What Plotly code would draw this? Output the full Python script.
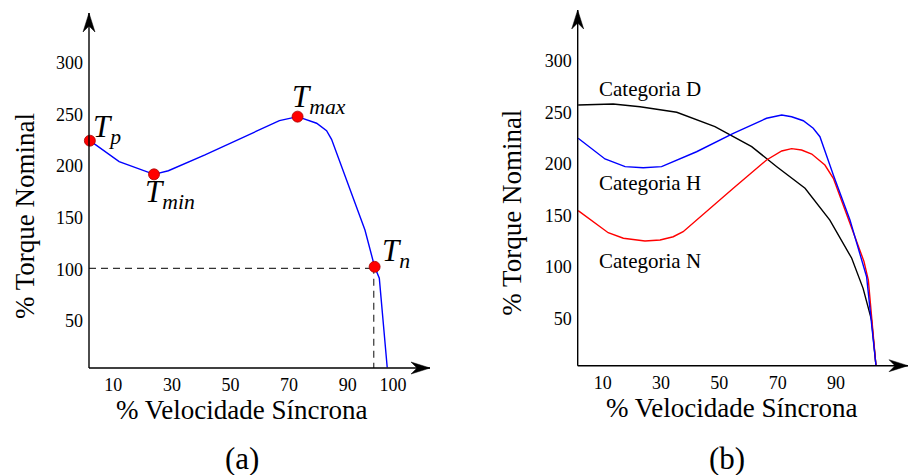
import plotly.graph_objects as go

# ---------------- Data: panel (a) ----------------
speed_a = [2.0, 12.0, 23.9, 28.8, 41.3, 66.7, 72.9, 79.4, 82.8, 84.5, 95.9, 99.2, 100.8, 103.5]
torque_a = [224.7, 204.4, 192.1, 195.6, 210.9, 244.1, 248.0, 241.6, 234.4, 226.0, 138.2, 102.5, 91.4, 5.0]

point_labels = ["<i>T</i><sub><i>p</i></sub>", "<i>T</i><sub><i>min</i></sub>",
                "<i>T</i><sub><i>max</i></sub>", "<i>T</i><sub><i>n</i></sub>"]
point_speed = [2.0, 23.9, 72.9, 99.2]
point_torque = [224.7, 192.1, 248.0, 102.5]

# ---------------- Data: panel (b) ----------------
speed_d = [1.6, 13.6, 22.8, 35.4, 48.5, 61.1, 69.7, 79.4, 87.9, 95.4, 99.3, 102.2, 103.7]
torque_d = [257.1, 258.0, 255.4, 250.0, 236.0, 216.6, 197.2, 176.2, 145.4, 108.3, 79.1, 48.3, 4.7]

speed_h = [1.6, 10.8, 17.7, 23.9, 30.2, 42.2, 54.8, 66.2, 71.4, 74.8, 78.8, 82.2, 84.5, 89.1, 94.8, 100.5, 103.7]
torque_h = [224.8, 204.7, 197.2, 196.2, 197.2, 211.7, 229.6, 244.2, 247.4, 245.7, 241.8, 234.5, 226.3, 189.1, 145.4, 90.4, 4.7]

speed_n = [1.6, 11.9, 17.1, 24.5, 29.7, 34.2, 37.6, 43.4, 54.8, 66.2, 71.4, 74.8, 78.2, 81.7, 86.2, 89.1, 94.8, 99.6, 101.1, 103.7]
torque_n = [154.5, 133.1, 127.7, 125.0, 126.0, 129.2, 134.1, 148.6, 176.2, 203.7, 212.4, 214.7, 213.4, 209.5, 198.8, 185.9, 142.2, 105.3, 87.2, 4.7]

category_names = ["Categoria D", "Categoria H", "Categoria N"]

# ---------------- Ticks ----------------
x_tick_vals_a = [10, 30, 50, 70, 90, 105.5]
x_tick_text_a = ["10", "30", "50", "70", "90", "100"]
x_tick_vals_b = [10, 30, 50, 70, 90]
x_tick_text_b = ["10", "30", "50", "70", "90"]
y_tick_vals = [50, 100, 150, 200, 250, 300]
y_tick_text = ["50", "100", "150", "200", "250", "300"]

x_title = "% Velocidade Síncrona"
y_title = "% Torque Nominal"
panel_names = ["(a)", "(b)"]

FONT = "Liberation Serif, Times New Roman, serif"
W, H = 909, 475

fig = go.Figure()

# Panel (a) curve
fig.add_trace(go.Scatter(x=speed_a, y=torque_a, mode="lines",
                         line=dict(color="#0000ff", width=1.4),
                         xaxis="x", yaxis="y", showlegend=False, cliponaxis=False))
# Dashed guides to Tn
x_min_a = 1.71
y_min_a = 4.46
fig.add_trace(go.Scatter(x=[x_min_a, point_speed[3]], y=[point_torque[3] - 1.5, point_torque[3] - 1.5],
                         mode="lines", line=dict(color="#333333", width=1.2, dash="7px,5px"),
                         xaxis="x", yaxis="y", showlegend=False))
fig.add_trace(go.Scatter(x=[point_speed[3] - 0.3, point_speed[3] - 0.3], y=[point_torque[3], y_min_a],
                         mode="lines", line=dict(color="#333333", width=1.2, dash="7px,5px"),
                         xaxis="x", yaxis="y", showlegend=False))
# Red points
fig.add_trace(go.Scatter(x=point_speed, y=point_torque, mode="markers",
                         marker=dict(color="#ff0000", size=11, line=dict(color="#aa0000", width=0.8)),
                         xaxis="x", yaxis="y", showlegend=False, cliponaxis=False))

# Panel (b) curves
for xs, ys, col in [(speed_d, torque_d, "#000000"), (speed_n, torque_n, "#ff0000"), (speed_h, torque_h, "#0000ff")]:
    fig.add_trace(go.Scatter(x=xs, y=ys, mode="lines", line=dict(color=col, width=1.4),
                             xaxis="x2", yaxis="y2", showlegend=False, cliponaxis=False))

tickfont = dict(family=FONT, size=18, color="black")
common_axis = dict(showgrid=False, zeroline=False, showline=False, ticks="", tickfont=tickfont)

fig.update_layout(
    width=W, height=H,
    margin=dict(l=0, r=0, t=0, b=0),
    paper_bgcolor="white", plot_bgcolor="white",
    xaxis=dict(domain=[89 / W, 430 / W], range=[x_min_a, 118.1], anchor="y",
               tickvals=x_tick_vals_a, ticktext=x_tick_text_a, ticklabelstandoff=4, **common_axis),
    yaxis=dict(domain=[1 - 368 / H, 1 - 13 / H], range=[y_min_a, 348.4], anchor="x",
               tickvals=y_tick_vals, ticktext=y_tick_text, ticklabelstandoff=5, **common_axis),
    xaxis2=dict(domain=[577.7 / W, 908 / W], range=[1.44, 114.7], anchor="y2",
                tickvals=x_tick_vals_b, ticktext=x_tick_text_b, ticklabelstandoff=4, **common_axis),
    yaxis2=dict(domain=[1 - 365.7 / H, 1 - 10 / H], range=[4.0, 349.3], anchor="x2",
                tickvals=y_tick_vals, ticktext=y_tick_text, ticklabelstandoff=5, **common_axis),
)

# Axis lines with arrowheads
shapes = []
for xr, yr in [("x domain", "y domain"), ("x2 domain", "y2 domain")]:
    shapes.append(dict(type="line", xref=xr, yref=yr, x0=0, y0=0, x1=1, y1=0,
                       line=dict(color="black", width=1.4)))
    shapes.append(dict(type="line", xref=xr, yref=yr, x0=0, y0=0, x1=0, y1=1,
                       line=dict(color="black", width=1.4)))
    # right arrow head
    shapes.append(dict(type="path", xref=xr, yref=yr, xsizemode="pixel", ysizemode="pixel",
                       xanchor=1, yanchor=0, path="M0,0 L-19,6 L-13,0 L-19,-6 Z",
                       fillcolor="black", line=dict(color="black", width=0.5)))
    # up arrow head
    shapes.append(dict(type="path", xref=xr, yref=yr, xsizemode="pixel", ysizemode="pixel",
                       xanchor=0, yanchor=1, path="M0,0 L6,-19 L0,-13 L-6,-19 Z",
                       fillcolor="black", line=dict(color="black", width=0.5)))
fig.update_layout(shapes=shapes)

annotations = []
# Point labels, offset in pixels from the points
label_shifts = [(1, 12, "left"), (16, -20, "center"), (21, 18, "center"), (5, 14, "left")]
for name, px, py, (dx, dy, xa) in zip(point_labels, point_speed, point_torque, label_shifts):
    annotations.append(dict(x=px, y=py, xref="x", yref="y", text=name, showarrow=False,
                            xanchor=xa, yanchor="middle", xshift=dx, yshift=dy,
                            font=dict(family=FONT, size=31, color="black")))

# Category labels (panel b)
for name, yp in zip(category_names, [1 - 89 / H, 1 - 183 / H, 1 - 261 / H]):
    annotations.append(dict(x=597 / W, y=yp, xref="paper", yref="paper", text=name, showarrow=False,
                            xanchor="left", yanchor="middle",
                            font=dict(family=FONT, size=21, color="black")))

# Titles and panel names
for cx_title, cy_title, cx_y, cy_y, cx_p, pname in [(242, 410, 25, 216, 242, panel_names[0]),
                                                    (731, 408, 511.7, 213, 726.7, panel_names[1])]:
    annotations.append(dict(x=cx_title / W, y=1 - cy_title / H, xref="paper", yref="paper",
                            text=x_title, showarrow=False, xanchor="center", yanchor="middle",
                            font=dict(family=FONT, size=27, color="black")))
    annotations.append(dict(x=cx_y / W, y=1 - cy_y / H, xref="paper", yref="paper",
                            text=y_title, showarrow=False, xanchor="center", yanchor="middle",
                            textangle=-90, font=dict(family=FONT, size=27, color="black")))
    annotations.append(dict(x=cx_p / W, y=1 - 458 / H, xref="paper", yref="paper",
                            text=pname, showarrow=False, xanchor="center", yanchor="middle",
                            font=dict(family=FONT, size=31, color="black")))

fig.update_layout(annotations=annotations)

fig.write_html("out.html",
               config={"displayModeBar": False},
               post_script="document.body.style.margin='0';document.body.style.padding='0';")
